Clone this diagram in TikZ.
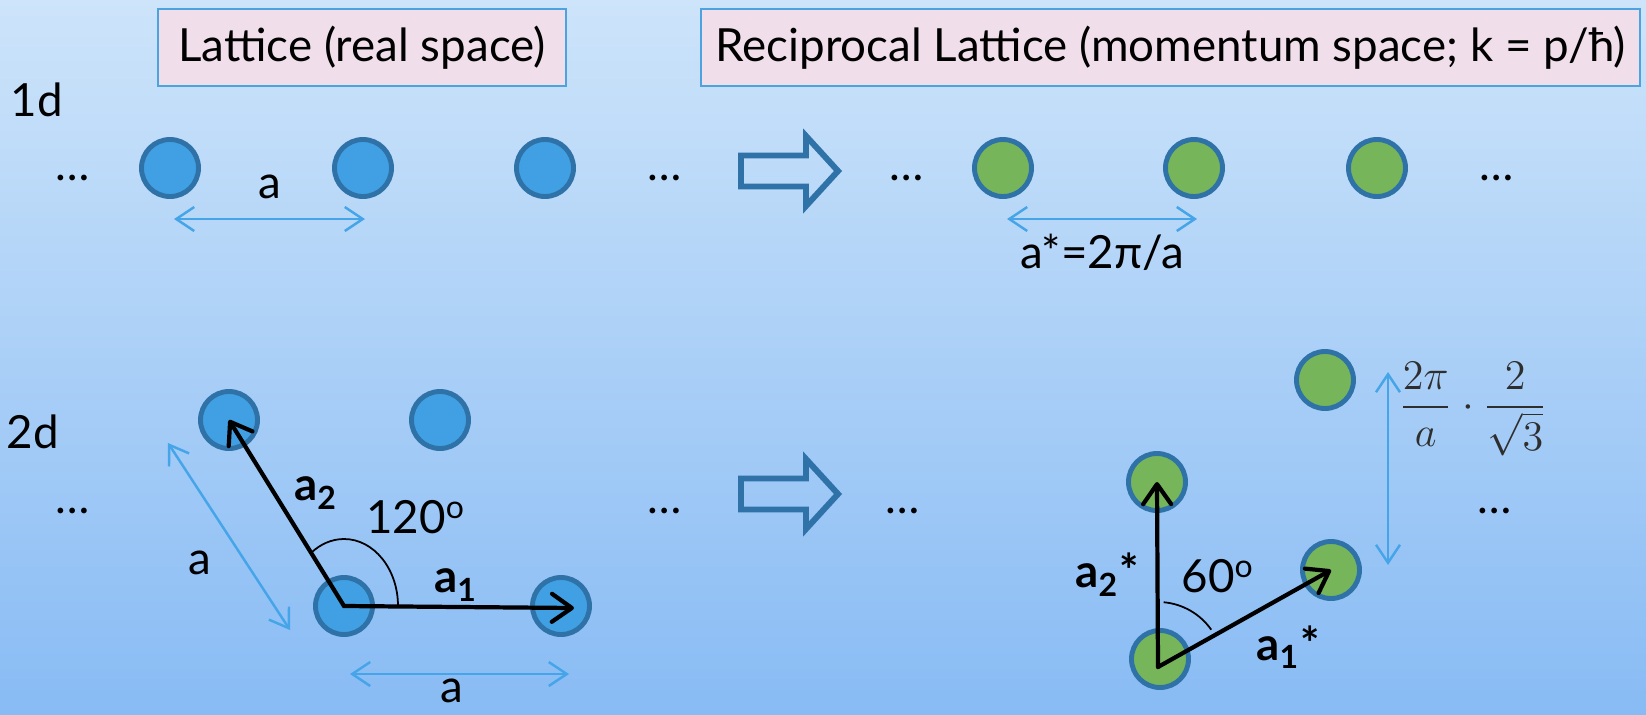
\documentclass[tikz,border=0pt]{standalone}
\usepackage{fontspec}
\setmainfont{Lato}
\usetikzlibrary{arrows.meta, calc, positioning}
\definecolor{bgtop}{HTML}{CDE4FA}
\definecolor{bgbot}{HTML}{88BBF4}
\definecolor{titlefill}{HTML}{F0DFEB}
\definecolor{titleedge}{HTML}{4CA3E0}
\definecolor{siteedge}{HTML}{2F72A8}
\definecolor{realfill}{HTML}{41A0E3}
\definecolor{recipfill}{HTML}{77B55A}
\definecolor{dimblue}{HTML}{45A5E8}
\definecolor{formgray}{HTML}{2E2E2E}
\tikzset{
  site/.style={circle, draw=siteedge, line width=1.4pt, minimum size=5.7mm, inner sep=0pt},
  realsite/.style={site, fill=realfill},
  recipsite/.style={site, fill=recipfill},
  titlebox/.style={draw=titleedge, fill=titlefill, line width=0.8pt, minimum height=7.7mm, inner sep=0pt, font=\fontsize{13}{15}\selectfont},
  dimline/.style={draw=dimblue, line width=0.7pt, {Straight Barb[length=1.8mm,width=2.4mm]}-{Straight Barb[length=1.8mm,width=2.4mm]}},
  vec/.style={line width=1.2pt, line cap=round, -{Straight Barb[length=2mm,width=2.8mm,round]}},
  blockarrow/.style={draw=siteedge, line width=1.7pt, line join=miter},
  lbl/.style={font=\fontsize{13}{15}\selectfont},
  dotsl/.style={font=\fontsize{13}{15}\selectfont, anchor=base},
}
\begin{document}
\begin{tikzpicture}[x=0.1mm, y=-0.1mm] % 1 Einheit = 1 Pixel, y nach unten
\useasboundingbox (0,0) rectangle (1646,715);
% Hintergrund
\shade[top color=bgtop, bottom color=bgbot] (0,0) rectangle (1646,715);
% Titel
\node[titlebox, minimum width=40.8mm] (title1) at (362,47.5) {Lattice (real space)};
\node[titlebox, minimum width=93.9mm] (title2) at (1170.5,47.5) {Reciprocal Lattice (momentum space; k = p/ħ)};
% 1d
\node[lbl] (lab1d) at (37,100) {1d};
\foreach \x [count=\i] in {170,363,545} \node[realsite] (r\i) at (\x,168) {}; % Gitter
\foreach \x [count=\i] in {1003,1194,1377} \node[recipsite] (k\i) at (\x,168) {}; % reziprok
\foreach \x [count=\i] in {73,665,907,1497} \node[dotsl] (dA\i) at (\x,180) {\dots};
\draw[dimline] ($(r1.center)+(4,51)$) -- ($(r2.center)+(2,51)$) node[midway, above=0.7mm, lbl] (la) {a};
\draw[dimline] ($(k1.center)+(4,51)$) -- ($(k2.center)+(3,51)$) node[midway, below=0.2mm, lbl] (lastar) {a*=2π/a};
% Blockpfeile
\foreach \y in {171,494}
  \draw[blockarrow] (741,\y-15.5) -- (806,\y-15.5) -- (806,\y-35) -- (838,\y) -- (806,\y+35) -- (806,\y+15.5) -- (741,\y+15.5) -- cycle;
% 2d, realer Raum
\node[lbl] (lab2d) at (33,432) {2d};
\node[realsite] (o) at (344,606) {};
\node[realsite] (a1t) at (561,606) {};
\node[realsite] (a2t) at (229,420) {};
\node[realsite] (a3t) at (440,420) {};
\foreach \x [count=\i] in {73,665,903,1495} \node[dotsl] (dB\i) at (\x,513) {\dots};
\draw[vec] (o.center) -- (a2t.center);
\draw[vec] (o.center) -- ($(a1t.center)+(13,2)$);
\draw[line width=0.5pt] ($(o.center)+(54,0)$) arc[start angle=0, end angle=-127.7, x radius=54, y radius=67];
\node[lbl] (la2) at (316,493) {\textbf{a}\textsubscript{\textbf{2}}};
\node[lbl] (ang1) at (416,517) {120\textsuperscript{o}};
\node[lbl] (la1) at (456,585) {\textbf{a}\textsubscript{\textbf{1}}};
\draw[dimline] ($(a2t.center)+(-61,23)$) -- ($(o.center)+(-54,24)$) node[pos=.64, xshift=-4.6mm, lbl] (lad) {a};
\draw[dimline] ($(o.center)+(6,68)$) -- ($(a1t.center)+(8,68)$) node[midway, below=0.4mm, xshift=-0.8mm, inner sep=0pt, lbl] (lab) {a};
% 2d, reziproker Raum
\node[recipsite] (g0) at (1160,659) {};
\node[recipsite] (g2) at (1157,482) {};
\node[recipsite] (g1) at (1331,570) {};
\node[recipsite] (g3) at (1325,380) {};
\coordinate (k0) at ($(g0.center)+(-2,8)$);
\draw[vec] (k0) -- (g2.center);
\draw[vec] (k0) -- (g1.center);
\draw[line width=0.5pt] ($(k0)+(-35:65)$) arc[start angle=-35, end angle=-85, radius=65];
\node[lbl] (lg2) at (1107,575) {\textbf{a}\textsubscript{\textbf{2}}\textbf{*}};
\node[lbl] (ang2) at (1218,576) {60\textsuperscript{o}};
\node[lbl] (lg1) at (1288,647) {\textbf{a}\textsubscript{\textbf{1}}\textbf{*}};
\draw[dimline] ($(g3.center)+(63,-8)$) -- ($(g1.center)+(57,-5)$);
\node[text=formgray, font=\fontsize{12}{14}\selectfont, inner sep=0pt] (frm) at (1473,409) {$\displaystyle\frac{2\pi}{a}\cdot\frac{2}{\sqrt{3}}$};
\end{tikzpicture}
\end{document}
